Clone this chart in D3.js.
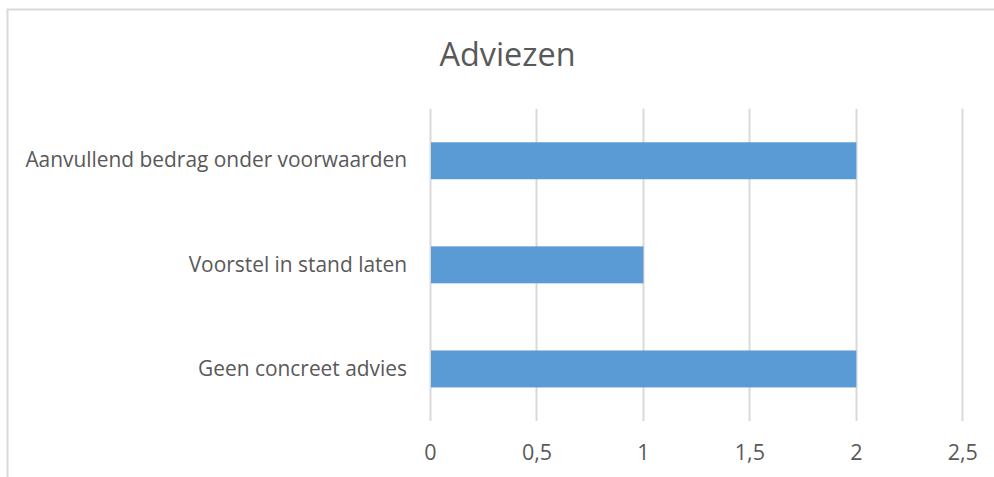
<!DOCTYPE html>
<html>
<head>
<meta charset="utf-8">
<script src="https://cdn.jsdelivr.net/npm/d3@7/dist/d3.min.js"></script>
<style>
  html, body { margin: 0; padding: 0; background: #fff; }
  svg text { font-family: "Open Sans", "Noto Sans", sans-serif; fill: #595959; }
</style>
</head>
<body>
<svg id="chart" width="994" height="477"></svg>
<script>
// data
let categories = ['Aanvullend bedrag onder voorwaarden', 'Voorstel in stand laten', 'Geen concreet advies'];
let values = [2, 1, 2];
let tickValues = [0, 0.5, 1, 1.5, 2, 2.5];
let title = 'Adviezen';

let svg = d3.select('#chart');

// chart frame (only top and left edge visible)
svg.append('path')
  .attr('d', 'M7.5,477 V9.5 H994')
  .attr('fill', 'none')
  .attr('stroke', '#d9d9d9')
  .attr('stroke-width', 2);

let margin = { top: 108.7, right: 31, bottom: 56, left: 430 };
let width = 994 - margin.left - margin.right;
let height = 477 - margin.top - margin.bottom;

let chart = svg.append('g')
  .attr('transform', 'translate(' + margin.left + ', ' + margin.top + ')');

let x = d3.scaleLinear()
  .domain([0, 2.5])
  .range([0, width - 0.7]);

let y = d3.scaleBand()
  .domain(categories)
  .range([0, height])
  .paddingInner(0.645)
  .paddingOuter(0.3225);

// gridlines
chart.append('g')
  .selectAll('line')
  .data(tickValues)
  .enter()
  .append('line')
  .attr('x1', d => Math.round(x(d)) + 0.5)
  .attr('x2', d => Math.round(x(d)) + 0.5)
  .attr('y1', 0)
  .attr('y2', height)
  .attr('stroke', '#d9d9d9')
  .attr('stroke-width', 2);

// bars
chart.selectAll('rect.bar')
  .data(values)
  .enter()
  .append('rect')
  .attr('class', 'bar')
  .attr('x', x(0) + 1)
  .attr('y', (d, i) => y(categories[i]))
  .attr('width', d => x(d) - x(0) - 0.5)
  .attr('height', y.bandwidth())
  .attr('fill', '#5b9bd5');

// x axis labels
let xAxis = d3.axisBottom(x)
  .tickValues(tickValues)
  .tickSize(0)
  .tickPadding(24)
  .tickFormat(d => String(d).replace('.', ','));

chart.append('g')
  .attr('transform', 'translate(0, ' + height + ')')
  .call(xAxis)
  .call(g => g.select('.domain').remove())
  .call(g => g.selectAll('text')
    .style('font-size', '21.5px')
    .style('font-family', '"Open Sans", sans-serif')
    .attr('fill', '#595959'));

// y axis labels
let yAxis = d3.axisLeft(y)
  .tickSize(0)
  .tickPadding(23);

chart.append('g')
  .call(yAxis)
  .call(g => g.select('.domain').remove())
  .call(g => g.selectAll('text')
    .style('font-size', '20.9px')
    .style('font-family', '"Open Sans", sans-serif')
    .attr('fill', '#595959'));

// title
svg.append('text')
  .attr('x', 507.5)
  .attr('y', 66)
  .attr('text-anchor', 'middle')
  .style('font-size', '32.4px')
  .text(title);
</script>
</body>
</html>
